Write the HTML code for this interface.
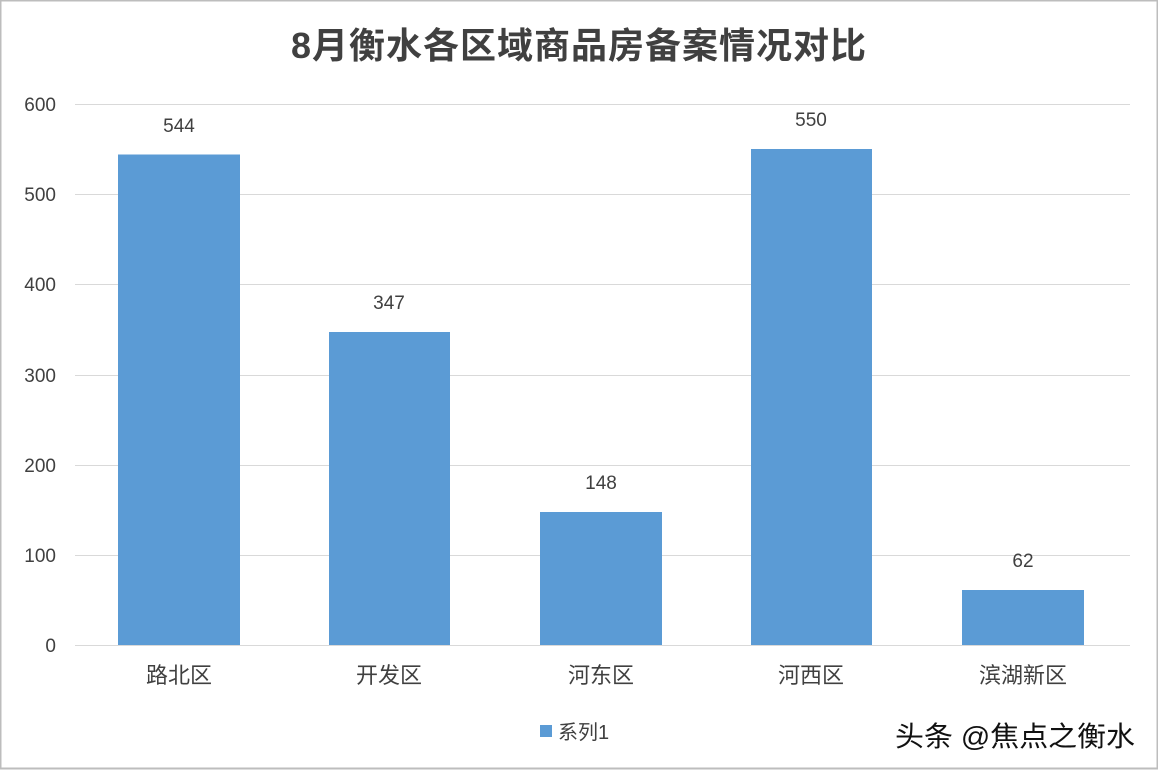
<!DOCTYPE html>
<html><head><meta charset="utf-8"><style>
html,body{margin:0;padding:0;background:#fff}
svg{display:block}
text{font-family:"Liberation Sans","Noto Sans CJK SC",sans-serif}
</style></head><body>
<svg width="1158" height="770" viewBox="0 0 1158 770" xmlns="http://www.w3.org/2000/svg">
<rect x="0" y="0" width="1158" height="770" fill="#fff"/>
<rect x="0.5" y="0.5" width="1157" height="768" fill="none" stroke="#bdbdbd" stroke-width="2"/>
<text x="579" y="58" text-anchor="middle" font-size="36" font-weight="bold" fill="#404040" letter-spacing="1">8月衡水各区域商品房备案情况对比</text>
<g stroke="#d9d9d9" stroke-width="1">
<line x1="75" y1="104.5" x2="1130" y2="104.5"/>
<line x1="75" y1="194.5" x2="1130" y2="194.5"/>
<line x1="75" y1="284.5" x2="1130" y2="284.5"/>
<line x1="75" y1="375.5" x2="1130" y2="375.5"/>
<line x1="75" y1="465.5" x2="1130" y2="465.5"/>
<line x1="75" y1="555.5" x2="1130" y2="555.5"/>
<line x1="75" y1="645.5" x2="1130" y2="645.5"/>
</g>
<g font-size="19" fill="#404040" text-anchor="end">
<text x="56" y="111">600</text>
<text x="56" y="201">500</text>
<text x="56" y="291">400</text>
<text x="56" y="382">300</text>
<text x="56" y="472">200</text>
<text x="56" y="562">100</text>
<text x="56" y="652">0</text>
</g>
<g fill="#5b9bd5">
<rect x="118" y="154.5" width="122" height="490.5"/>
<rect x="329" y="332" width="121" height="313"/>
<rect x="540" y="512" width="122" height="133"/>
<rect x="751" y="149" width="121" height="496"/>
<rect x="962" y="590" width="122" height="55"/>
</g>
<g font-size="19" fill="#404040" text-anchor="middle">
<text x="179" y="132">544</text>
<text x="389" y="309">347</text>
<text x="601" y="489">148</text>
<text x="811" y="126">550</text>
<text x="1023" y="567">62</text>
</g>
<g font-size="22" fill="#404040" text-anchor="middle">
<text x="179" y="683">路北区</text>
<text x="389" y="683">开发区</text>
<text x="601" y="683">河东区</text>
<text x="811" y="683">河西区</text>
<text x="1023" y="683">滨湖新区</text>
</g>
<rect x="540" y="725" width="12" height="12" fill="#5b9bd5"/>
<text x="558" y="739" font-size="20" fill="#404040">系列1</text>
<text x="895" y="746" font-size="28" fill="#111" textLength="240" lengthAdjust="spacingAndGlyphs">头条 @焦点之衡水</text>
</svg>
</body></html>
